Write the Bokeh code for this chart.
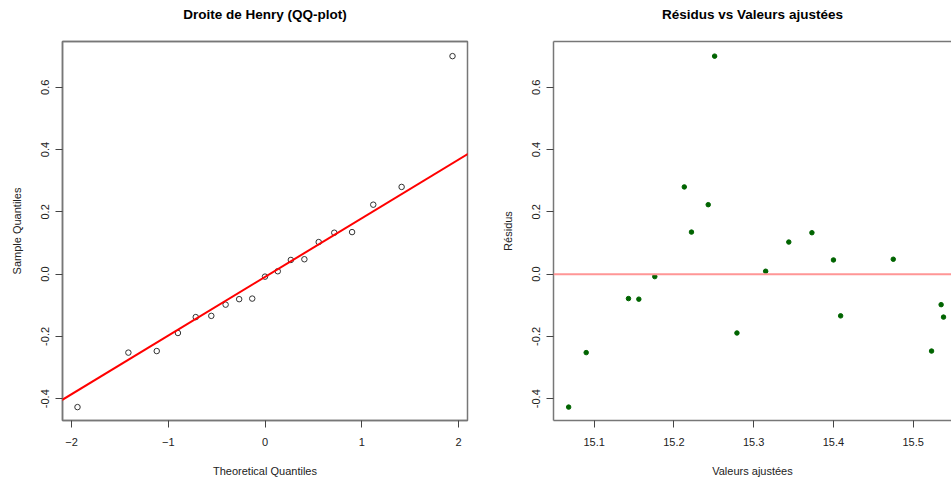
import numpy as np
from bokeh.plotting import figure
from bokeh.layouts import row
from bokeh.models import Range1d, FixedTicker, Slope, Span, LinearAxis, PrintfTickFormatter
from bokeh.embed import file_html
from bokeh.resources import INLINE

# ---- data ----
fitted = [15.068, 15.090, 15.143, 15.156, 15.176, 15.213, 15.222, 15.243, 15.251, 15.279,
          15.315, 15.344, 15.373, 15.400, 15.409, 15.475, 15.523, 15.535, 15.538]
residuals = [-0.427, -0.252, -0.0785, -0.0804, -0.008, 0.280, 0.135, 0.223, 0.700, -0.189,
             0.0093, 0.103, 0.133, 0.0455, -0.134, 0.0478, -0.247, -0.098, -0.138]
theoretical_q = [-1.938, -1.412, -1.119, -0.900, -0.716, -0.555, -0.407, -0.267, -0.132, 0.0,
                 0.132, 0.267, 0.407, 0.555, 0.716, 0.900, 1.119, 1.412, 1.938]
qq_xticks = [-2, -1, 0, 1, 2]
res_xticks = [15.1, 15.2, 15.3, 15.4, 15.5]
yticks = [-0.4, -0.2, 0.0, 0.2, 0.4, 0.6]
titles = ["Droite de Henry (QQ-plot)", "Résidus vs Valeurs ajustées"]

sample_q = np.sort(np.array(residuals))
q1, q3 = np.percentile(sample_q, [25, 75])
z1, z3 = -0.6745, 0.6745
slope = (q3 - q1) / (z3 - z1)
intercept = q1 - slope * z1

FONT = "Liberation Sans"
AX_COL = "#777777"
TXT = "#222222"


def style(p, xticks):
    p.xgrid.visible = False
    p.ygrid.visible = False
    p.background_fill_color = "white"
    p.border_fill_color = "white"
    for ax in p.xaxis + p.yaxis:
        ax.axis_line_color = AX_COL
        ax.axis_line_width = 1.5
        ax.major_tick_line_color = "#444444"
        ax.major_tick_out = 7
        ax.major_tick_in = 0
        ax.minor_tick_line_color = None
        ax.major_label_text_font = FONT
        ax.major_label_text_font_size = "11px"
        ax.major_label_text_color = TXT
        ax.axis_label_text_font = FONT
        ax.axis_label_text_font_size = "11px"
        ax.axis_label_text_font_style = "normal"
        ax.axis_label_text_color = TXT
    p.xaxis.ticker = FixedTicker(ticks=xticks)
    p.xaxis.major_label_standoff = 10
    p.xaxis.axis_label_standoff = 16
    p.yaxis.ticker = FixedTicker(ticks=yticks)
    p.yaxis.formatter = PrintfTickFormatter(format="%.1f")
    p.yaxis.major_label_orientation = "vertical"
    p.yaxis.major_label_standoff = 6
    p.yaxis.axis_label_standoff = 16


def title_axis(p, text):
    # top border line of the frame, carrying the chart title as its label
    ax = LinearAxis(ticker=FixedTicker(ticks=[]), axis_line_color=AX_COL, axis_line_width=1.5,
                    major_tick_line_color=None, minor_tick_line_color=None,
                    major_tick_out=0, major_tick_in=0,
                    major_label_text_font_size="0px", major_label_standoff=0,
                    axis_label=text, axis_label_standoff=20,
                    axis_label_text_font=FONT, axis_label_text_font_style="bold",
                    axis_label_text_font_size="13.5px", axis_label_text_color="black")
    p.add_layout(ax, "above")


# ---- QQ plot ----
p1 = figure(width=491, height=479, output_backend="svg", toolbar_location=None,
            x_range=Range1d(-2.093, 2.093), y_range=Range1d(-0.470, 0.747),
            min_border_left=62, min_border_right=24, min_border_top=41, min_border_bottom=59,
            x_axis_label="Theoretical Quantiles", y_axis_label="Sample Quantiles")
p1.outline_line_color = AX_COL
p1.outline_line_width = 1.5
p1.outline_line_alpha = 1.0
p1.add_layout(Slope(gradient=slope, y_intercept=intercept, line_color="#ff0000", line_width=2))
p1.scatter(theoretical_q, sample_q, marker="circle", size=5.5, fill_color=None,
           line_color="#333333", line_width=1)
style(p1, qq_xticks)
title_axis(p1, titles[0])

# ---- residuals vs fitted ----
p2 = figure(width=460, height=479, output_backend="svg", toolbar_location=None,
            x_range=Range1d(15.049, 15.548), y_range=Range1d(-0.470, 0.747),
            min_border_left=62, min_border_right=0, min_border_top=41, min_border_bottom=59,
            x_axis_label="Valeurs ajustées", y_axis_label="Résidus")
p2.outline_line_color = None
p2.add_layout(Span(location=0, dimension="width", line_color="#ff9696", line_width=2))
p2.scatter(fitted, residuals, marker="circle", size=4.5, fill_color="#006400", line_color="#006400")
style(p2, res_xticks)
title_axis(p2, titles[1])

layout = row(p1, p2, spacing=0)
open("out.html", "w").write(file_html(layout, INLINE))
